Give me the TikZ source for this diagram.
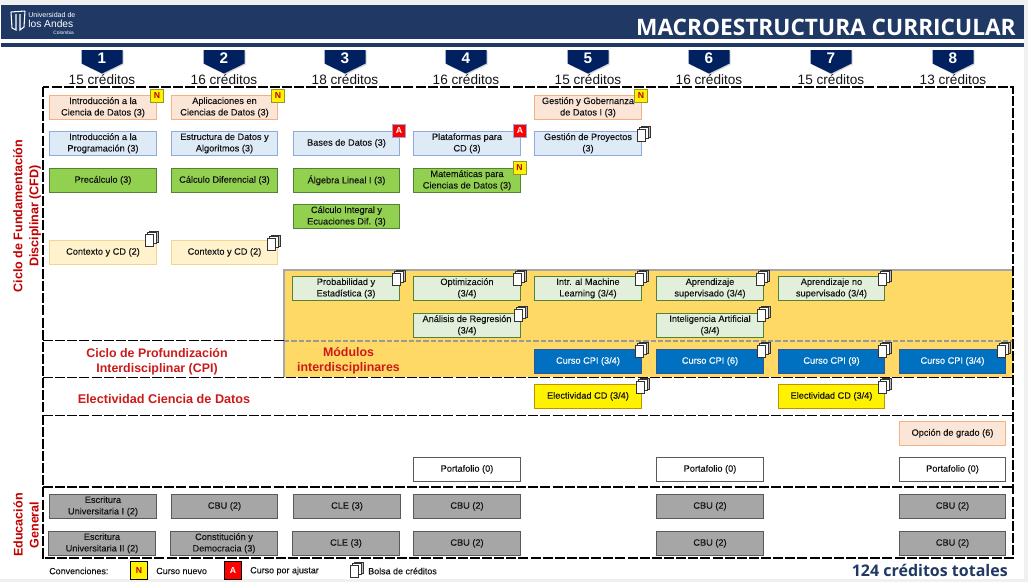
\documentclass[tikz,border=0pt]{standalone}
\usepackage{fontspec}
\setmainfont{Liberation Sans}
\newfontfamily\titlefont{Open Sans}
\newfontfamily\boxfont[FakeBold=0.18]{Liberation Sans}
\usetikzlibrary{shadows}
\definecolor{navy}{HTML}{1F3864}
\definecolor{penta}{HTML}{002060}
\definecolor{peachF}{HTML}{FBE5D6}\definecolor{peachD}{HTML}{F4B183}
\definecolor{blueF}{HTML}{DEEAF6}\definecolor{blueD}{HTML}{8FAADC}
\definecolor{greenF}{HTML}{92D050}\definecolor{greenD}{HTML}{548235}
\definecolor{creamF}{HTML}{FFF2CC}\definecolor{creamD}{HTML}{F6D58A}
\definecolor{paleF}{HTML}{E2EFDA}\definecolor{paleD}{HTML}{548235}
\definecolor{cpiF}{HTML}{0070C0}\definecolor{cpiD}{HTML}{2F5597}
\definecolor{modY}{HTML}{FFD966}
\definecolor{redT}{HTML}{C00000}
\definecolor{redM}{HTML}{CC1A1A}
\definecolor{greyF}{HTML}{A6A6A6}\definecolor{greyD}{HTML}{595959}
\definecolor{txt}{HTML}{141414}
\newlength{\pxu}\setlength{\pxu}{.75pt}
\tikzset{
 box/.style={minimum width=106.5\pxu,minimum height=23.5\pxu,inner sep=0pt,align=center,font=\boxfont\fontsize{6.9}{8.6}\selectfont,text=txt,line width=.75pt},
 peach/.style={box,draw=peachD,fill=peachF},
 bluebox/.style={box,draw=blueD,fill=blueF},
 greenbox/.style={box,draw=greenD,fill=greenF},
 cream/.style={box,draw=creamD,fill=creamF},
 pale/.style={box,draw=paleD,fill=paleF},
 cpi/.style={box,draw=cpiD,fill=cpiF,text=white},
 elect/.style={box,draw={rgb,255:red,191;green,144;blue,0},fill=yellow},
 port/.style={box,draw=greyD,fill=white},
 grey/.style={box,draw=greyD,fill=greyF},
 opcion/.style={box,draw=peachD,fill=peachF},
 badgeN/.style={minimum size=13\pxu,inner sep=0pt,draw={rgb,255:red,150;green,150;blue,40},fill=yellow,text=redT,font=\fontsize{6.5}{7}\selectfont\bfseries,line width=.6pt},
 badgeA/.style={minimum size=13\pxu,inner sep=0pt,draw=blueD,fill=red,text=white,font=\fontsize{6.5}{7}\selectfont\bfseries,line width=.6pt},
 sect/.style={black,line width=1.35pt,dash pattern=on 7.5pt off 1.6pt},
 sectred/.style={text=redM,font=\fontsize{9.3}{11}\selectfont\bfseries,align=center},
 pentagon/.style={fill=penta,draw=none,drop shadow={shadow xshift=.8pt,shadow yshift=-.8pt,opacity=.35}},
 sem/.style={text=white,font=\fontsize{11.5}{12}\selectfont\bfseries,inner sep=0pt},
 cred/.style={text=txt,font=\fontsize{10.2}{11}\selectfont,inner sep=0pt},
 conv/.style={text=txt,font=\boxfont\fontsize{6.7}{8}\selectfont,inner sep=0pt,anchor=west},
 sheet/.style={fill=white,draw=black!80,line width=.75pt}
}
\newcommand{\stackicon}[2]{\begin{scope}[shift={(#1,#2)}]
 \draw[sheet,fill=black!25] (4.5,0) rectangle (13,11);
 \draw[sheet] (2.5,1.5) rectangle (11,12.5);
 \draw[sheet] (0,3) rectangle (8.5,15);
\end{scope}}
\newcommand{\pent}[3]{\path[pentagon] (#1-20.5,50) -- (#1+20.5,50) -- (#1+20.5,63.5) -- (#1,73.5) -- (#1-20.5,63.5) -- cycle;
 \node[sem] (s#2) at (#1,58.5) {#2};
 \node[cred] (c#2) at (#1,79.5) {#3};}
\begin{document}
\begin{tikzpicture}[x=.75pt,y=-.75pt]
\useasboundingbox (0,0) rectangle (1028,582);
\fill[black!6] (0,0) rectangle (1028,4.5);
\fill[black!6] (1024,0) rectangle (1028,582);
\fill[black!6] (0,579) rectangle (1028,582);
\fill[navy] (1,5) rectangle (1024,39);
\fill[navy] (1,43) rectangle (1024,47);
% logo
\draw[white,line width=.8pt] (11,12) -- (25,11) (11,12) -- (12,28) -- (16,30) -- (16,14) (25,11) -- (24,27) -- (20,30) -- (20,14);
\node[text=white,inner sep=0,anchor=west,font=\fontsize{5.3}{6}\selectfont] (u1) at (28,14.5) {Universidad de};
\node[text=white,inner sep=0,anchor=west,font=\fontsize{7.7}{9}\selectfont] (u2) at (28,23.5) {los Andes};
\node[text=white,inner sep=0,anchor=east,font=\fontsize{3.6}{4}\selectfont] (u3) at (74,33) {Colombia};
\node[text=white,inner sep=0,anchor=east,font=\titlefont\fontsize{17}{18}\selectfont\bfseries] (title) at (1016,27) {MACROESTRUCTURA CURRICULAR};
% yellow module
\fill[modY] (284,270) rectangle (1013,377);
\draw[black!35,line width=1.4pt] (284,377) -- (284,270) -- (1013,270);
\draw[black!40,line width=1pt,dash pattern=on 4pt off 1.5pt] (284,341) -- (1013,341);
% dashed frames
\draw[sect] (43,87) rectangle (1013,558);
\draw[sect] (43,340.5) -- (284,340.5);
\draw[sect] (43,377.5) -- (1013,377.5);
\draw[sect] (43,415.5) -- (1013,415.5);
\draw[sect] (43,487) -- (1013,487);
% semesters
\pent{102}{1}{15 créditos}
\pent{224}{2}{16 créditos}
\pent{345}{3}{18 créditos}
\pent{466}{4}{16 créditos}
\pent{588}{5}{15 créditos}
\pent{709}{6}{16 créditos}
\pent{831}{7}{15 créditos}
\pent{953}{8}{13 créditos}
% side labels
\node[sectred,rotate=90,text=redT,font=\fontsize{9.4}{12}\selectfont\bfseries] (cfd) at (27,216) {Ciclo de Fundamentación\\Disciplinar (CFD)};
\node[sectred,rotate=90,text=redT,font=\fontsize{9.4}{12}\selectfont\bfseries] (eg) at (26,525) {Educación\\General};
\node[sectred] (cpil) at (157,361.5) {Ciclo de Profundización\\Interdisciplinar (CPI)};
\node[sectred] (mod) at (348.5,361) {Módulos\\interdisciplinares};
\node[sectred,font=\fontsize{9.5}{11}\selectfont\bfseries] (elec) at (164,398.5) {Electividad Ciencia de Datos};
% row 1
\node[peach] (a1) at (103,107.3) {Introducción a la\\Ciencia de Datos (3)};
\node[peach] (a2) at (224.5,107.3) {Aplicaciones en\\Ciencias de Datos (3)};
\node[peach] (a5) at (588,107.3) {Gestión y Gobernanza\\de Datos I (3)};
% row 2
\node[bluebox] (b1) at (103,143.3) {Introducción a la\\Programación (3)};
\node[bluebox] (b2) at (224.5,143.3) {Estructura de Datos y\\Algoritmos (3)};
\node[bluebox] (b3) at (346.5,143.3) {Bases de Datos (3)};
\node[bluebox] (b4) at (467,143.3) {Plataformas para\\CD (3)};
\node[bluebox] (b5) at (588,143.3) {Gestión de Proyectos\\(3)};
% row 3
\node[greenbox] (c1) at (103,180.3) {Precálculo (3)};
\node[greenbox] (c2) at (224.5,180.3) {Cálculo Diferencial (3)};
\node[greenbox] (c3) at (346.5,180.3) {Álgebra Lineal I (3)};
\node[greenbox] (c4) at (467,180.3) {Matemáticas para\\Ciencias de Datos (3)};
% row 4
\node[greenbox] (d3) at (346.5,216.3) {Cálculo Integral y\\Ecuaciones Dif. (3)};
% row 5
\node[cream] (e1) at (103,252.3) {Contexto y CD (2)};
\node[cream] (e2) at (224.5,252.3) {Contexto y CD (2)};
% row 6
\node[pale] (f3) at (346,288.3) {Probabilidad y\\Estadística (3)};
\node[pale] (f4) at (467,288.3) {Optimización\\(3/4)};
\node[pale] (f5) at (588,288.3) {Intr. al Machine\\Learning (3/4)};
\node[pale] (f6) at (710,288.3) {Aprendizaje\\supervisado (3/4)};
\node[pale] (f7) at (831.5,288.3) {Aprendizaje no\\supervisado (3/4)};
% row 7
\node[pale] (g4) at (467,325.3) {Análisis de Regresión\\(3/4)};
\node[pale] (g6) at (710,325.3) {Inteligencia Artificial\\(3/4)};
% row 8
\node[cpi] (h5) at (588,361.3) {Curso CPI (3/4)};
\node[cpi] (h6) at (710,361.3) {Curso CPI (6)};
\node[cpi] (h7) at (831.5,361.3) {Curso CPI (9)};
\node[cpi] (h8) at (952.5,361.3) {Curso CPI (3/4)};
% row 9
\node[elect] (i5) at (588,396.3) {Electividad CD (3/4)};
\node[elect] (i7) at (831.5,396.3) {Electividad CD (3/4)};
% row 10-11
\node[opcion] (j8) at (952.5,433.3) {Opción de grado (6)};
\node[port] (k4) at (467,469.3) {Portafolio (0)};
\node[port] (k6) at (710,469.3) {Portafolio (0)};
\node[port] (k8) at (952.5,469.3) {Portafolio (0)};
% row 12
\node[grey] (l1) at (103,506.3) {Escritura\\Universitaria I (2)};
\node[grey] (l2) at (224.5,506.3) {CBU (2)};
\node[grey] (l3) at (347,506.3) {CLE (3)};
\node[grey] (l4) at (467,506.3) {CBU (2)};
\node[grey] (l6) at (710,506.3) {CBU (2)};
\node[grey] (l8) at (952.5,506.3) {CBU (2)};
% row 13
\node[grey] (m1) at (102,543.3) {Escritura\\Universitaria II (2)};
\node[grey] (m2) at (224,543.3) {Constitución y\\Democracia (3)};
\node[grey] (m3) at (346,543.3) {CLE (3)};
\node[grey] (m4) at (467,543.3) {CBU (2)};
\node[grey] (m6) at (710,543.3) {CBU (2)};
\node[grey] (m8) at (952.5,543.3) {CBU (2)};
% badges
\node[badgeN] (n1) at (157,95.5) {N};
\node[badgeN] (n2) at (278,95.5) {N};
\node[badgeN] (n5) at (641,95.5) {N};
\node[badgeN] (n4) at (519.5,168) {N};
\node[badgeA] (r3) at (399,131) {A};
\node[badgeA] (r4) at (520,131) {A};
% stacks
\stackicon{637}{126}
\stackicon{145}{231}
\stackicon{267}{235}
\stackicon{392}{270}
\stackicon{513}{270}
\stackicon{635}{270}
\stackicon{756}{270}
\stackicon{878}{270}
\stackicon{514}{306}
\stackicon{757}{306}
\stackicon{635}{342}
\stackicon{757}{342}
\stackicon{878}{342}
\stackicon{997}{342}
\stackicon{636}{378}
\stackicon{878}{378}
% legend
\node[conv] (conv) at (49,571) {Convenciones:};
\node[badgeN,minimum width=17\pxu,minimum height=18\pxu,draw=black] (ln) at (139,570.5) {N};
\node[conv] (lnt) at (156,571) {Curso nuevo};
\node[badgeA,minimum width=17\pxu,minimum height=18\pxu,draw=black] (la) at (233,570.5) {A};
\node[conv] (lat) at (250,571) {Curso por ajustar};
\stackicon{350}{562}
\node[conv] (lst) at (368,571) {Bolsa de créditos};
\node[text=navy,inner sep=0,anchor=east,font=\titlefont\fontsize{12}{13}\selectfont\bfseries] (tot) at (1008,570.5) {124 créditos totales};
\end{tikzpicture}
\end{document}
